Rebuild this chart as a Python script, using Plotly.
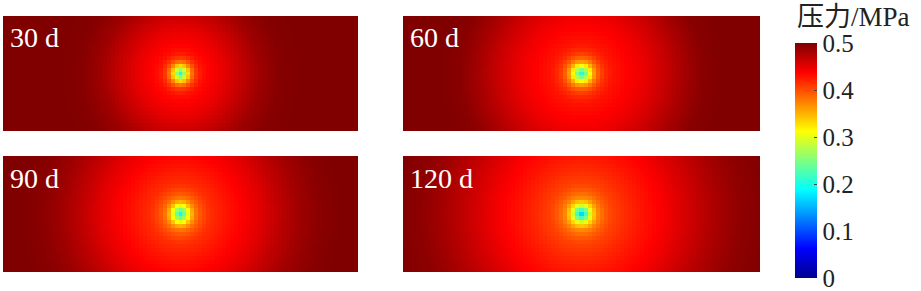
import numpy as np
import plotly.graph_objects as go

# ---- data ----
days = ["30 d", "60 d", "90 d", "120 d"]
# distance from the well (grid units) and pressure (MPa) along that distance
radius = [0, 4, 8, 12, 16, 22, 30, 45, 60, 80, 100, 120, 140, 160, 180, 200]
p_30d = [0.20, 0.26, 0.33, 0.38, 0.41, 0.43, 0.438, 0.45, 0.465, 0.485, 0.497, 0.50, 0.50, 0.50, 0.50, 0.50]
p_60d = [0.20, 0.25, 0.31, 0.36, 0.39, 0.415, 0.428, 0.437, 0.446, 0.462, 0.48, 0.495, 0.50, 0.50, 0.50, 0.50]
p_90d = [0.19, 0.24, 0.30, 0.35, 0.38, 0.40, 0.415, 0.427, 0.437, 0.452, 0.47, 0.485, 0.495, 0.50, 0.50, 0.50]
p_120d = [0.17, 0.22, 0.29, 0.34, 0.37, 0.39, 0.405, 0.418, 0.428, 0.44, 0.455, 0.47, 0.483, 0.493, 0.498, 0.50]
profiles = [p_30d, p_60d, p_90d, p_120d]
tick_vals = [0, 0.1, 0.2, 0.3, 0.4, 0.5]
tick_text = ["0", "0.1", "0.2", "0.3", "0.4", "0.5"]
cbar_title = "压力/MPa"

SERIF = "Liberation Serif"

# ---- grid (cell centres) ----
xs = np.arange(-44, 45) * 4.0
ys = np.arange(-14, 15) * 4.0
XX, YY = np.meshgrid(xs, ys)
RR = np.sqrt(XX ** 2 + YY ** 2)

W, H = 921, 291
# panel pixel boxes: (left, right, top, bottom)
boxes = [(3, 358, 16, 131), (403, 760, 16, 131), (3, 358, 156, 272), (403, 760, 156, 272)]

jet = [[0.0, "rgb(0,0,143)"], [0.125, "rgb(0,0,255)"], [0.375, "rgb(0,255,255)"],
       [0.625, "rgb(255,255,0)"], [0.875, "rgb(255,0,0)"], [1.0, "rgb(128,0,0)"]]

fig = go.Figure()
layout = dict(
    width=W, height=H, margin=dict(l=0, r=0, t=0, b=0),
    paper_bgcolor="white", plot_bgcolor="white", showlegend=False,
    coloraxis=dict(
        colorscale=jet, cmin=-1e-6, cmax=0.5,
        colorbar=dict(
            thickness=22, thicknessmode="pixels", len=235, lenmode="pixels",
            x=795 / W, xanchor="left", y=1 - 160.5 / H, yanchor="middle",
            xpad=0, ypad=0, outlinewidth=0,
            tickvals=tick_vals, ticktext=tick_text, tickmode="array",
            ticks="inside", ticklen=3, tickcolor="#444", tickwidth=1,
            ticklabeloverflow="allow",
            tickfont=dict(family=SERIF, size=25, color="#222"),
        ),
    ),
)
annotations = []
for k, (day, prof, box) in enumerate(zip(days, profiles, boxes)):
    l, r, t, b = box
    z = np.interp(RR, radius, prof)
    xa = "x" if k == 0 else f"x{k+1}"
    ya = "y" if k == 0 else f"y{k+1}"
    fig.add_trace(go.Heatmap(x=xs, y=ys, z=z, coloraxis="coloraxis",
                             xaxis=xa, yaxis=ya, hoverinfo="skip"))
    kx = "xaxis" if k == 0 else f"xaxis{k+1}"
    ky = "yaxis" if k == 0 else f"yaxis{k+1}"
    layout[kx] = dict(domain=[l / W, r / W], range=[-178, 178], visible=False,
                      anchor=ya, fixedrange=True)
    layout[ky] = dict(domain=[1 - b / H, 1 - t / H], range=[-58, 58], visible=False,
                      anchor=xa, fixedrange=True)
    annotations.append(dict(
        text=day, xref="paper", yref="paper", x=(l + 5) / W, y=1 - (t + 22) / H,
        xanchor="left", yanchor="middle", showarrow=False,
        font=dict(family=SERIF, size=28, color="white")))

annotations.append(dict(
    text=cbar_title, xref="paper", yref="paper", x=853 / W, y=1 - 17 / H,
    xanchor="center", yanchor="middle", showarrow=False,
    font=dict(family="Liberation Serif, Noto Sans CJK SC, serif", size=27, color="#222")))
layout["annotations"] = annotations
fig.update_layout(**layout)
fig.write_html("out.html")
